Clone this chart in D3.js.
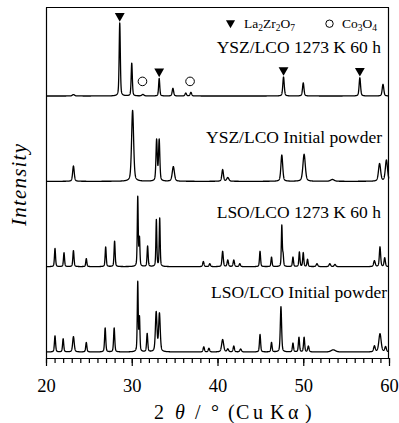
<!DOCTYPE html>
<html><head><meta charset="utf-8">
<script src="https://cdn.jsdelivr.net/npm/d3@7/dist/d3.min.js"></script>
<style>body{margin:0;background:#fff}svg{display:block}svg text{font-family:'Liberation Serif','Times New Roman',Times,'DejaVu Serif',serif;fill:#000}</style>
</head><body><svg id="c" width="399" height="423" font-family="Liberation Serif"></svg>
<script>
// ---- data (2θ in degrees, relative intensity %, FWHM in degrees) ----
const seriesNames = ["YSZ/LCO 1273 K 60 h","YSZ/LCO Initial powder","LSO/LCO 1273 K 60 h","LSO/LCO Initial powder"];
const xTicks = [20,30,40,50,60];

const ysz1273Pos  = [23.2,28.6,30.0,31.3,33.2,34.8,36.3,36.9,47.7,50.0,56.6,59.3];
const ysz1273Int  = [2,100,45,2,24,10.5,4,5,26,18,25,16];
const ysz1273Fwhm = [0.3,0.16,0.16,0.3,0.16,0.2,0.2,0.2,0.2,0.2,0.2,0.22];

const yszInitPos  = [23.2,30.1,32.9,33.2,34.85,40.6,41.2,47.5,50.1,53.4,58.9,59.7];
const yszInitInt  = [21,97,56,56,20,16,5,36,37,2.5,24,29];
const yszInitFwhm = [0.22,0.28,0.18,0.18,0.3,0.22,0.3,0.25,0.33,0.5,0.3,0.3];

const lso1273Pos  = [21.05,22.1,23.2,24.7,26.96,28.0,30.7,30.9,31.85,32.87,33.26,38.35,39.1,40.6,41.2,41.9,42.6,44.96,46.3,47.5,47.65,48.8,49.55,50.0,50.5,51.6,53.1,53.7,58.3,58.95,59.5];
const lso1273Int  = [25,19,22,11,27,35,95,38,28,64,66,7,4,21,9,9,4,21,13,56,15,13,20,19,10,4,4,3,8,27,12];
const lso1273Fwhm = [0.15,0.15,0.16,0.15,0.15,0.15,0.13,0.13,0.15,0.13,0.13,0.18,0.18,0.18,0.18,0.18,0.18,0.15,0.15,0.13,0.13,0.15,0.15,0.15,0.15,0.22,0.22,0.22,0.22,0.18,0.18];

const lsoInitPos  = [21.05,22.0,23.2,24.7,26.9,27.95,30.7,30.9,31.8,32.85,33.23,38.4,39.0,40.6,41.2,41.9,42.7,44.96,46.3,47.4,48.8,49.5,50.1,50.6,53.5,58.3,58.95,59.6];
const lsoInitInt  = [22,18,21,13,33,33,95,46,25,54,52,7,5,17,4,8,4,24,13,62,12,20,20,8,3,8,25,7];
const lsoInitFwhm = [0.16,0.16,0.22,0.16,0.16,0.16,0.13,0.13,0.16,0.22,0.22,0.18,0.18,0.28,0.22,0.18,0.22,0.16,0.16,0.18,0.16,0.16,0.16,0.18,0.6,0.22,0.32,0.22];

const la2zr2o7Peaks = [28.6,33.2,47.7,56.6];
const co3o4Marks = [31.25,36.8];

const series = [
  {name:seriesNames[0], pos:ysz1273Pos, int:ysz1273Int, fwhm:ysz1273Fwhm},
  {name:seriesNames[1], pos:yszInitPos, int:yszInitInt, fwhm:yszInitFwhm},
  {name:seriesNames[2], pos:lso1273Pos, int:lso1273Int, fwhm:lso1273Fwhm},
  {name:seriesNames[3], pos:lsoInitPos, int:lsoInitInt, fwhm:lsoInitFwhm}
];

// ---- layout ----
const FONT = "'Liberation Serif','Times New Roman',Times,serif";
const L=46, R=389, TOP=7.5, AXY=358;
const svg = d3.select("#c");
const x = d3.scaleLinear().domain([20,60]).range([L,R]);
const base = d3.scalePoint().domain(seriesNames).range([96,352]);
const h = d3.scaleLinear().domain([0,100]).range([0,73]);

function profile(s, t){
  let v=0;
  for(let i=0;i<s.pos.length;i++){
    const d=(t-s.pos[i])/(s.fwhm[i]/2);
    const Lz=1/(1+d*d), G=Math.exp(-Math.LN2*d*d);
    v+=s.int[i]*(0.4*Lz+0.6*G);
  }
  return v;
}
const grid = d3.range(20,60.0001,0.01);
series.forEach(s=>{
  const pts = grid.map(t=>[t, profile(s,t)]);
  const line = d3.line().x(d=>x(d[0])).y(d=>base(s.name)-h(d[1]));
  svg.append("path").attr("d",line(pts)).attr("fill","none").attr("stroke","#000").attr("stroke-width",1.3).attr("stroke-linejoin","round");
});

// frame
svg.append("line").attr("x1",L).attr("x2",R).attr("y1",TOP).attr("y2",TOP).attr("stroke","#000").attr("stroke-width",1.2);
svg.append("line").attr("x1",L+0.5).attr("x2",L+0.5).attr("y1",TOP).attr("y2",AXY).attr("stroke","#000").attr("stroke-width",1.2);
svg.append("line").attr("x1",R-0.5).attr("x2",R-0.5).attr("y1",TOP).attr("y2",AXY).attr("stroke","#000").attr("stroke-width",1.2);

// x axis
const minor = d3.axisBottom(x).tickValues(d3.range(20,61,1)).tickSize(5).tickSizeOuter(0).tickFormat("");
const major = d3.axisBottom(x).tickValues(xTicks).tickSize(8).tickSizeOuter(0).tickPadding(13).tickFormat(d3.format("d"));
const gm = svg.append("g").attr("transform",`translate(0,${AXY})`).call(minor);
const gM = svg.append("g").attr("transform",`translate(0,${AXY})`).call(major);
[gm,gM].forEach(g=>{g.attr("font-family",FONT); g.selectAll("line,path").attr("stroke","#000").attr("stroke-width",1.2);});
gM.attr("font-size",18);
gM.selectAll("text").style("font-family",FONT).style("font-size","18.5px").attr("fill","#000");

// axis titles
const xt = svg.append("text").attr("y",419).style("font-family",FONT).style("font-size","20px");
xt.append("tspan").attr("x",154).text("2");
xt.append("tspan").attr("x",175).attr("font-style","italic").text("θ");
xt.append("tspan").attr("x",195).text("/");
xt.append("tspan").attr("x",211).text("°");
xt.append("tspan").attr("x",228).text("(");
xt.append("tspan").attr("x",236).attr("textLength",27).text("Cu");
xt.append("tspan").attr("x",270).text("K");
xt.append("tspan").attr("x",288).text("α");
xt.append("tspan").attr("x",305).text(")");
svg.append("text").attr("transform","translate(26,185) rotate(-90)").attr("text-anchor","middle")
  .attr("textLength",82).attr("lengthAdjust","spacing")
  .style("font-family",FONT).style("font-size","21px").style("font-style","italic").text("Intensity");

// series labels
const labelPos = [[381,52.5],[382,142.5],[381,218],[387,298]];
series.forEach((s,i)=>{
  svg.append("text").attr("x",labelPos[i][0]).attr("y",labelPos[i][1]).attr("text-anchor","end")
    .style("font-family",FONT).style("font-size","17.5px").text(s.name);
});

// markers on top trace
const s0 = series[0];
const tri = d3.symbol().type(d3.symbolTriangle).size(42);
la2zr2o7Peaks.forEach(p=>{
  const yTop = base(s0.name) - h(profile(s0,p));
  svg.append("path").attr("d",tri()).attr("transform",`translate(${x(p)},${yTop-7}) rotate(180)`).attr("fill","#000");
});
co3o4Marks.forEach(p=>{
  svg.append("circle").attr("cx",x(p)).attr("cy",base(s0.name)-h(20)).attr("r",4.3).attr("fill","none").attr("stroke","#000").attr("stroke-width",1);
});

// legend
svg.append("path").attr("d",d3.symbol().type(d3.symbolTriangle).size(36)()).attr("transform","translate(230.5,23) rotate(180)").attr("fill","#000");
function chem(g, parts){
  let shifted=false;
  parts.forEach(([t,sub])=>{
    const sp = g.append("tspan").text(t);
    if(sub){ sp.style("font-size","9.5px").attr("dy",shifted?0:3); shifted=true; }
    else { sp.attr("dy",shifted?-3:0); shifted=false; }
  });
}
const lg1 = svg.append("text").attr("x",244).attr("y",27.5).style("font-family",FONT).style("font-size","13.5px");
chem(lg1,[["La"],["2",1],["Zr"],["2",1],["O"],["7",1]]);
svg.append("circle").attr("cx",329.5).attr("cy",23.7).attr("r",3.7).attr("fill","none").attr("stroke","#000").attr("stroke-width",1);
const lg2 = svg.append("text").attr("x",342).attr("y",27.5).style("font-family",FONT).style("font-size","13.5px");
chem(lg2,[["Co"],["3",1],["O"],["4",1]]);
</script></body></html>
